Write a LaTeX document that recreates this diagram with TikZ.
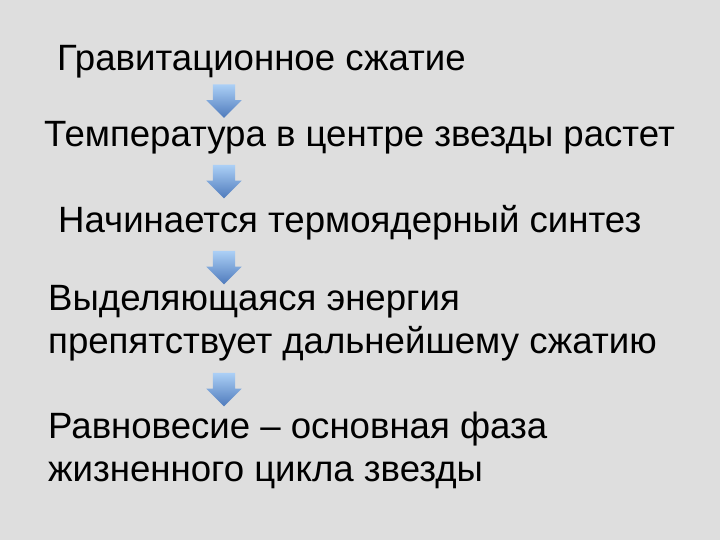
\documentclass[tikz,border=0pt]{standalone}
\usepackage{fontspec}
\setmainfont{Liberation Sans}
\usetikzlibrary{shapes,positioning}

\begin{document}
\begin{tikzpicture}[x=1pt,y=-1pt]
            \tikzstyle{stage}=[anchor=base west,inner sep=0pt,align=left,font=\fontsize{36.6}{42.5}\selectfont]
            \tikzstyle{down}=[single arrow,shape border rotate=270,inner sep=11pt,minimum height=31pt,single arrow head extend=6.5pt,top color={rgb,255:red,172;green,208;blue,246},bottom color={rgb,255:red,78;green,122;blue,188},draw=none]

            \shade[top color=black!13,middle color=black!6,bottom color=black!13] (0,0) rectangle (720,540);
            \useasboundingbox (0,0) rectangle (720,540);

            \node[stage] (grav) at (57,71) {Гравитационное сжатие};
            \node[stage] (temp) at (44,147) {Температура в центре звезды растет};
            \node[stage] (syn) at (58,233) {Начинается термоядерный синтез};
            \node[stage] (ener) at (48,353) {Выделяющаяся энергия\\препятствует дальнейшему сжатию};
            \node[stage] (eq) at (48,481) {Равновесие -- основная фаза\\жизненного цикла звезды};

            \node[down] (a1) at (224,95.5) {};
            \node[down] (a2) at (224,176) {};
            \node[down] (a3) at (224,262) {};
            \node[down] (a4) at (224,384) {};
\end{tikzpicture}
\end{document}
